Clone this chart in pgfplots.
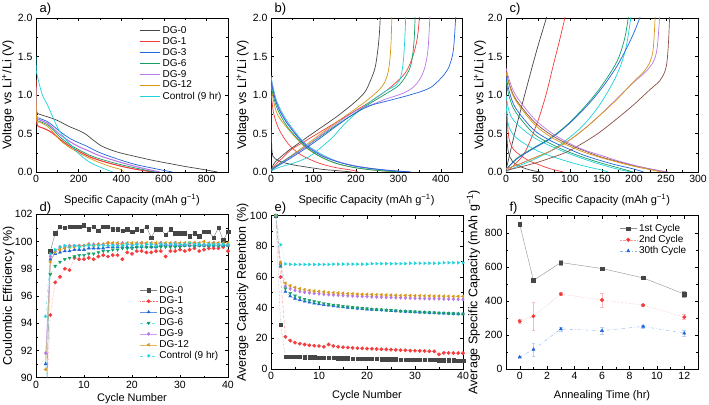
\documentclass[border=0pt]{standalone}
\usepackage{fontspec}
\setmainfont{Liberation Sans}
\usepackage{pgfplots}
\pgfplotsset{compat=1.18}
\definecolor{cG}{RGB}{70,70,70}
\definecolor{cR}{RGB}{245,60,60}
\definecolor{cB}{RGB}{30,100,220}
\definecolor{cGr}{RGB}{20,160,100}
\definecolor{cV}{RGB}{185,120,230}
\definecolor{cO}{RGB}{215,150,20}
\definecolor{cC}{RGB}{30,210,215}
\definecolor{cBr}{RGB}{140,80,70}
\pgfplotsset{
  myax/.style={scale only axis, anchor=south west, tick align=inside,
    major tick length=3pt, minor tick length=1.6pt,
    tick style={black, line width=0.4pt},
    axis line style={line width=0.6pt},
    ticklabel style={font=\fontsize{10.5}{12}\selectfont},
    xlabel style={font=\fontsize{11}{13}\selectfont},
    ylabel style={font=\fontsize{12.5}{14}\selectfont},
    /pgf/number format/assume math mode=true,
    minor x tick num=1, minor y tick num=1,
    legend cell align=left,
  },
  ylpos/.style={ylabel style={at={(axis description cs:#1,0.5)}, anchor=center}},
  xlpos/.style={xlabel style={at={(axis description cs:0.5,#1)}, anchor=center}},
  vax/.style={ymin=0,ymax=2,ytick={0,0.5,1,1.5,2},
    yticklabel style={/pgf/number format/.cd,fixed,fixed zerofill,precision=1},
    xlabel={Specific Capacity (mAh g\textsuperscript{−1})},
    ylabel={Voltage vs Li\textsuperscript{+}/Li (V)}, xlpos=-0.182},
  cv/.style={smooth, tension=0.55, line width=0.7pt, no marks},
  lgd/.style={legend style={draw=none, fill=none, font=\fontsize{10}{11}\selectfont, row sep=-1.6pt, inner sep=1pt}},
}
\begin{document}
\begin{tikzpicture}
\useasboundingbox (0,0) rectangle (709pt,404pt);
% ---------------- a ----------------
\begin{axis}[myax, vax, ylpos=-0.146, name=a, at={(36pt,232pt)}, width=192pt, height=154pt,
  xmin=0, xmax=900, xtick={0,200,...,800}, lgd,
  legend style={at={(0.53,0.965)}, anchor=north west},
  legend image code/.code={\draw[#1] (0cm,0cm) -- (0.72cm,0cm);}]
\addplot[cv, cG] coordinates {(0,0.9) (3,0.78) (16,0.75) (50,0.72) (100,0.67) (156,0.59) (200,0.54) (234,0.49) (270,0.41) (313,0.33) (380,0.26) (469,0.2) (550,0.15) (625,0.11) (703,0.07) (780,0.035) (830,0.01) (850,0)};
\addlegendentry{DG-0}
\addplot[cv, cR, line width=1.1pt] coordinates {(0,1.2) (3,0.7) (8,0.6) (23,0.58) (50,0.55) (80,0.5) (110,0.43) (150,0.35) (200,0.27) (250,0.2) (300,0.15) (350,0.11) (400,0.075) (450,0.045) (500,0.02) (540,0.005) (555,0)};
\addlegendentry{DG-1}
\addplot[cv, cB] coordinates {(0,1.1) (3,0.74) (15,0.7) (50,0.66) (80,0.6) (110,0.53) (156,0.44) (200,0.38) (234,0.34) (300,0.25) (391,0.16) (470,0.095) (547,0.05) (600,0.02) (640,0)};
\addlegendentry{DG-3}
\addplot[cv, cGr] coordinates {(0,1.05) (3,0.7) (15,0.66) (50,0.62) (80,0.55) (110,0.46) (156,0.36) (200,0.29) (250,0.22) (300,0.17) (391,0.1) (470,0.05) (530,0.015) (560,0)};
\addlegendentry{DG-6}
\addplot[cv, cV, line width=1.1pt] coordinates {(0,1.1) (3,0.72) (15,0.68) (50,0.64) (80,0.57) (110,0.49) (156,0.4) (200,0.33) (250,0.27) (300,0.21) (391,0.13) (470,0.07) (530,0.03) (580,0)};
\addlegendentry{DG-9}
\addplot[cv, cO] coordinates {(0,1.1) (3,0.68) (15,0.65) (50,0.6) (80,0.52) (110,0.42) (156,0.32) (200,0.25) (250,0.18) (300,0.12) (350,0.07) (400,0.03) (410,0)};
\addlegendentry{DG-12}
\addplot[cv, cC] coordinates {(0,1.5) (2,1.3) (10,1.2) (30,1.0) (52,0.88) (78,0.72) (110,0.53) (156,0.37) (200,0.24) (234,0.16) (270,0.1) (313,0.05) (340,0.02) (360,0)};
\addlegendentry{Control (9 hr)}
\end{axis}
\node[anchor=base west, font=\fontsize{13}{15}\selectfont] at ([yshift=5pt]a.north west) {a)};
% ---------------- b ----------------
\begin{axis}[myax, vax, ylpos=-0.148, name=b, at={(271pt,232pt)}, width=191pt, height=154pt,
  xmin=0, xmax=450, xtick={0,100,...,400}]
\addplot[cv, cG] coordinates {(0,0.02) (3,0.06) (10,0.13) (37,0.26) (77,0.42) (116,0.57) (155,0.72) (194,0.89) (220,1.03) (233,1.17) (245,1.35) (252,1.6) (256,1.85) (258,2.1)};
\addplot[cv, cG] coordinates {(0,1.25) (0.8,0.6) (2,0.3) (5,0.2) (20,0.14) (50,0.095) (77,0.07) (120,0.035) (155,0.018) (185,0.003) (190,0)};
\addplot[cv, cR] coordinates {(0,0.02) (10,0.09) (30,0.2) (50,0.3) (77,0.39) (116,0.52) (155,0.65) (194,0.78) (233,0.91) (270,1.05) (296,1.17) (318,1.3) (334,1.5) (345,1.75) (351,2.1)};
\addplot[cv, cR] coordinates {(0,1.04) (5,0.8) (12,0.65) (22,0.52) (40,0.37) (61,0.26) (85,0.18) (116,0.11) (150,0.06) (194,0.02) (205,0)};
\addplot[cv, cO] coordinates {(0,0.02) (10,0.07) (37,0.17) (77,0.33) (116,0.49) (155,0.65) (194,0.8) (233,0.96) (260,1.1) (272,1.22) (279,1.4) (283,1.7) (285,2.1)};
\addplot[cv, cO] coordinates {(0,1.15) (5,0.95) (15,0.75) (37,0.58) (77,0.34) (116,0.2) (155,0.11) (194,0.06) (233,0.03) (270,0.01) (290,0)};
\addplot[cv, cC] coordinates {(0,0.01) (14,0.05) (37,0.09) (61,0.13) (90,0.2) (116,0.31) (145,0.45) (171,0.61) (200,0.76) (233,0.91) (270,1.05) (295,1.13) (304,1.2) (311,1.4) (315,1.7) (318,2.1)};
\addplot[cv, cC] coordinates {(0,1.25) (5,1.1) (15,0.9) (37,0.67) (77,0.39) (116,0.24) (155,0.14) (194,0.08) (233,0.045) (272,0.02) (310,0.005) (325,0)};
\addplot[cv, cGr] coordinates {(0,0.02) (10,0.07) (37,0.17) (77,0.31) (116,0.46) (155,0.61) (194,0.75) (233,0.89) (272,1.02) (300,1.12) (318,1.25) (330,1.4) (337,1.7) (340,2.1)};
\addplot[cv, cGr] coordinates {(0,1.15) (5,1.0) (15,0.82) (37,0.6) (77,0.35) (116,0.2) (155,0.11) (194,0.06) (233,0.03) (272,0.012) (310,0)};
\addplot[cv, cV] coordinates {(0,0.02) (10,0.06) (37,0.16) (77,0.31) (116,0.47) (155,0.63) (202,0.8) (240,0.88) (272,0.95) (310,1.02) (335,1.1) (350,1.2) (362,1.35) (370,1.6) (375,2.1)};
\addplot[cv, cV] coordinates {(0,1.22) (5,1.08) (15,0.88) (37,0.65) (77,0.38) (116,0.23) (155,0.14) (194,0.085) (233,0.05) (272,0.025) (310,0.008) (330,0)};
\addplot[cv, cB] coordinates {(0,0.02) (10,0.06) (37.5,0.15) (77,0.29) (116,0.44) (155,0.6) (194,0.75) (233,0.86) (272,0.92) (327,1.0) (370,1.08) (390,1.16) (410,1.28) (421,1.39) (430,1.6) (436,2.1)};
\addplot[cv, cB] coordinates {(0,1.2) (5,1.05) (15,0.86) (37,0.64) (77,0.37) (116,0.22) (155,0.135) (194,0.08) (233,0.047) (272,0.024) (310,0.008) (330,0)};
\end{axis}
\node[anchor=base west, font=\fontsize{13}{15}\selectfont] at ([yshift=5pt]b.north west) {b)};
% ---------------- c ----------------
\begin{axis}[myax, vax, ylpos=-0.135, name=c, at={(506pt,232pt)}, width=192pt, height=154pt,
  xmin=0, xmax=300, xtick={0,50,...,300}]
\addplot[cv, cG] coordinates {(0,0.02) (3,0.13) (15,0.55) (32,1.09) (48,1.58) (63,2.0) (66,2.1)};
\addplot[cv, cG] coordinates {(0,1.4) (0.5,0.9) (1.5,0.45) (4,0.25) (10,0.14) (20,0.08) (32,0.04) (45,0.012) (55,0)};
\addplot[cv, cR] coordinates {(0,0.0) (10,0.07) (27,0.22) (40,0.45) (53,0.74) (64,1.05) (74,1.39) (84,1.72) (92,2.0) (95,2.1)};
\addplot[cv, cR] coordinates {(0,1.0) (1,0.85) (3,0.55) (6,0.39) (12,0.29) (22,0.22) (35,0.15) (53,0.09) (70,0.04) (90,0)};
\addplot[cv, cC] coordinates {(0,1.0) (3,0.85) (8,0.72) (20,0.6) (43,0.45) (69,0.34) (95,0.25) (121,0.17) (147,0.1) (173,0.04) (195,0)};
\addplot[cv, cC] coordinates {(0,0.9) (2,0.7) (5,0.58) (15,0.45) (43,0.3) (69,0.21) (95,0.14) (121,0.08) (147,0.03) (160,0)};
\addplot[cv, cC] coordinates {(0,0.01) (20,0.08) (43,0.16) (69,0.27) (95,0.42) (121,0.61) (147,0.88) (173,1.26) (187,1.6) (195,2.0) (197,2.1)};
\addplot[cv, cGr] coordinates {(0,0.03) (17,0.18) (40,0.3) (69,0.44) (95,0.61) (121,0.83) (147,1.09) (173,1.43) (185,1.72) (191,2.0) (193,2.1)};
\addplot[cv, cGr] coordinates {(0,1.2) (5,0.98) (15,0.78) (43,0.5) (69,0.37) (95,0.27) (121,0.19) (147,0.12) (173,0.06) (190,0.02) (198,0)};
\addplot[cv, cB] coordinates {(0,0.03) (17,0.17) (40,0.29) (69,0.43) (95,0.6) (121,0.81) (147,1.06) (173,1.37) (195,1.72) (209,2.0) (212,2.1)};
\addplot[cv, cB] coordinates {(0,1.25) (5,1.05) (15,0.83) (43,0.55) (69,0.41) (95,0.31) (121,0.22) (147,0.15) (173,0.09) (199,0.04) (215,0)};
\addplot[cv, cBr] coordinates {(0,0.02) (20,0.06) (43,0.11) (69,0.18) (95,0.26) (121,0.38) (147,0.52) (173,0.69) (199,0.87) (225,1.07) (240,1.18) (246,1.26) (251,1.4) (254,1.7) (256,2.1)};
\addplot[cv, cBr] coordinates {(0,1.3) (5,1.15) (15,0.95) (43,0.66) (69,0.49) (95,0.37) (121,0.28) (147,0.2) (173,0.14) (199,0.085) (225,0.04) (245,0.008) (253,0)};
\addplot[cv, cV] coordinates {(0,0.04) (20,0.1) (43,0.18) (69,0.27) (95,0.39) (121,0.55) (147,0.74) (173,0.95) (199,1.16) (218,1.3) (230,1.43) (236,1.6) (240,2.0) (241,2.1)};
\addplot[cv, cV] coordinates {(0,1.35) (5,1.2) (15,1.0) (43,0.7) (69,0.52) (95,0.39) (121,0.29) (147,0.22) (173,0.15) (199,0.09) (225,0.04) (245,0.01) (252,0)};
\addplot[cv, cO] coordinates {(0,0.04) (20,0.1) (43,0.18) (69,0.27) (95,0.39) (121,0.55) (147,0.74) (173,0.94) (199,1.17) (215,1.3) (225,1.43) (230,1.6) (233,2.0) (234,2.1)};
\addplot[cv, cO] coordinates {(0,1.3) (5,1.13) (15,0.93) (43,0.63) (69,0.46) (95,0.35) (121,0.26) (147,0.19) (173,0.13) (199,0.075) (225,0.03) (240,0.005) (245,0)};
\end{axis}
\node[anchor=base west, font=\fontsize{13}{15}\selectfont] at ([yshift=5pt]c.north west) {c)};
% ---------------- d ----------------
\begin{axis}[myax, name=d, at={(36pt,26.3pt)}, width=192pt, height=163.4pt,
  xmin=0, xmax=40, xtick={0,10,...,40}, ymin=90, ymax=102, ytick={90,92,...,102},
  xlabel={Cycle Number}, ylabel={Coulombic Efficiency (\%)}, ylpos=-0.142, xlpos=-0.128, lgd,
  legend style={at={(0.535,0.58)}, anchor=north west},
  every axis plot/.append style={mark size=1.7pt, line width=0.4pt}]
\addplot[cG!70, mark=square*, mark options={cG}] coordinates {(2,86) (3,99.3) (4,100.6) (5,101.1) (6,101.0) (7,101.1) (8,101.1) (9,101.1) (10,101.2) (11,100.9) (12,101.1) (13,100.8) (14,101.1) (15,101.1) (16,100.9) (17,100.9) (18,100.8) (19,100.9) (20,100.7) (21,100.9) (22,100.8) (23,101.1) (24,100.3) (25,100.9) (26,100.9) (27,100.5) (28,100.9) (29,100.6) (30,100.6) (31,100.6) (32,100.4) (33,100.6) (34,100.4) (35,100.7) (36,100.7) (37,100.3) (38,101.0) (39,100.1) (40,100.7)};
\addlegendentry{DG-0}
\addplot[cR!70, densely dotted, mark=*, mark options={cR, solid}] coordinates {(2,87) (3,94.6) (4,97.0) (5,97.4) (6,98.0) (7,97.9) (8,98.8) (9,98.7) (10,98.7) (11,98.8) (12,98.7) (13,98.9) (14,99.0) (15,98.9) (16,99.0) (17,99.0) (18,98.7) (19,99.2) (20,99.1) (21,99.3) (22,99.3) (23,99.2) (24,99.2) (25,99.3) (26,99.3) (27,98.9) (28,99.3) (29,99.3) (30,99.4) (31,99.3) (32,99.4) (33,99.5) (34,99.3) (35,99.4) (36,99.5) (37,99.5) (38,99.5) (39,99.6) (40,99.3)};
\addlegendentry{DG-1}
\addplot[cB!70, mark=triangle*, mark options={cB}] coordinates {(2,91.0) (3,98.7) (4,99.1) (5,99.2) (6,99.3) (7,99.3) (8,99.4) (9,99.4) (10,99.4) (11,99.5) (12,99.5) (13,99.5) (14,99.5) (15,99.6) (16,99.6) (17,99.6) (18,99.6) (19,99.6) (20,99.6) (21,99.6) (22,99.6) (23,99.6) (24,99.6) (25,99.6) (26,99.7) (27,99.7) (28,99.7) (29,99.7) (30,99.7) (31,99.7) (32,99.7) (33,99.7) (34,99.7) (35,99.7) (36,99.7) (37,99.7) (38,99.7) (39,99.7) (40,99.7)};
\addlegendentry{DG-3}
\addplot[cC!60, dashed, mark=triangle*, mark options={cGr, rotate=180, solid}] coordinates {(2,89.3) (3,97.6) (4,98.2) (5,98.5) (6,98.7) (7,98.8) (8,98.9) (9,99.0) (10,99.0) (11,99.1) (12,99.1) (13,99.2) (14,99.3) (15,99.3) (16,99.4) (17,99.4) (18,99.5) (19,99.5) (20,99.5) (21,99.6) (22,99.6) (23,99.6) (24,99.6) (25,99.6) (26,99.6) (27,99.6) (28,99.6) (29,99.6) (30,99.6) (31,99.7) (32,99.7) (33,99.7) (34,99.7) (35,99.7) (36,99.7) (37,99.7) (38,99.7) (39,99.7) (40,99.7)};
\addlegendentry{DG-6}
\addplot[cV!70, mark=diamond*, mark options={cV}] coordinates {(2,91.8) (3,98.9) (4,99.3) (5,99.6) (6,99.6) (7,99.7) (8,99.7) (9,99.7) (10,99.7) (11,99.8) (12,99.8) (13,99.8) (14,99.8) (15,99.9) (16,99.8) (17,99.8) (18,99.9) (19,99.8) (20,99.8) (21,99.8) (22,99.9) (23,99.8) (24,99.8) (25,99.8) (26,99.9) (27,99.8) (28,99.8) (29,99.9) (30,99.8) (31,99.8) (32,99.8) (33,99.9) (34,99.8) (35,99.8) (36,99.8) (37,99.9) (38,99.8) (39,99.8) (40,99.8)};
\addlegendentry{DG-9}
\addplot[cO!70, mark=triangle*, mark options={cO, rotate=90}] coordinates {(2,90.6) (3,98.5) (4,99.2) (5,99.4) (6,99.5) (7,99.6) (8,99.6) (9,99.7) (10,99.7) (11,99.8) (12,99.7) (13,99.8) (14,99.8) (15,99.9) (16,99.9) (17,99.9) (18,99.8) (19,99.9) (20,99.9) (21,99.9) (22,99.9) (23,99.9) (24,99.9) (25,99.9) (26,99.9) (27,99.9) (28,99.9) (29,99.9) (30,99.9) (31,99.9) (32,99.9) (33,99.9) (34,99.9) (35,100.0) (36,99.9) (37,99.9) (38,99.9) (39,99.9) (40,99.9)};
\addlegendentry{DG-12}
\addplot[cC!70, dashed, mark=triangle*, mark options={cC, rotate=-90, solid}] coordinates {(2,94.5) (3,99.1) (4,99.4) (5,99.6) (6,99.7) (7,99.6) (8,99.7) (9,99.6) (10,99.7) (11,99.7) (12,99.7) (13,99.7) (14,99.7) (15,99.7) (16,99.7) (17,99.7) (18,99.7) (19,99.8) (20,99.7) (21,99.8) (22,99.7) (23,99.8) (24,99.8) (25,99.7) (26,99.8) (27,99.8) (28,99.8) (29,99.8) (30,99.8) (31,99.8) (32,99.9) (33,99.8) (34,99.8) (35,99.8) (36,99.8) (37,99.8) (38,99.8) (39,99.8) (40,99.8)};
\addlegendentry{Control (9 hr)}
\end{axis}
\node[anchor=base west, font=\fontsize{13}{15}\selectfont] at ([yshift=3pt]d.north west) {d)};
% ---------------- e ----------------
\begin{axis}[myax, name=e, at={(271pt,35pt)}, width=192pt, height=153.3pt,
  xmin=0, xmax=40, xtick={0,10,...,40}, ymin=0, ymax=100, ytick={0,20,...,100},
  xlabel={Cycle Number}, ylabel={Average Capacity Retention (\%)}, ylpos=-0.148, xlpos=-0.176,
  every axis plot/.append style={mark size=1.7pt, line width=0.4pt}]
\addplot[cG!60, densely dotted, mark=square*, mark options={cG, solid}] coordinates {(1,100) (2,29) (3,8) (4,8) (5,8) (6,8) (7,7.8) (8,7.8) (9,7.6) (10,7.5) (11,7.4) (12,7.3) (13,7.2) (14,7.1) (15,7) (16,7) (17,6.9) (18,6.8) (19,6.7) (20,6.7) (21,6.6) (22,6.6) (23,6.5) (24,6.4) (25,6.4) (26,6.3) (27,6.2) (28,6.2) (29,6.1) (30,6.1) (31,6) (32,6) (33,5.9) (34,5.9) (35,5.8) (36,5.8) (37,5.7) (38,5.7) (39,5.6) (40,5.6)};
\addplot[cR!60, densely dashed, mark=*, mark options={cR, solid}] coordinates {(1,100) (2,60) (3,21) (4,18.5) (5,17.2) (6,16.5) (7,16) (8,15.5) (9,15.2) (10,15) (11,14.5) (12,16) (13,15) (14,14.5) (15,14.2) (16,14) (17,13.8) (18,13.6) (19,13.5) (20,13.3) (21,13.2) (22,13) (23,12.9) (24,12.8) (25,12.6) (26,12.5) (27,12.3) (28,12.2) (29,12) (30,11.9) (31,11.8) (32,11.7) (33,11.6) (34,11.5) (35,9.5) (36,10.5) (37,10.5) (38,10.4) (39,10.4) (40,10.4)};
\addplot[cB!60, densely dashed, mark=triangle*, mark options={cB, solid}] coordinates {(1,100) (2,67) (3,50.5) (4,47.5) (5,46) (6,45) (7,44.2) (8,43.5) (9,42.9) (10,42.4) (11,41.9) (12,41.5) (13,41.1) (14,40.7) (15,40.4) (16,40.1) (17,39.8) (18,39.5) (19,39.3) (20,39.0) (21,38.8) (22,38.6) (23,38.4) (24,38.2) (25,38) (26,37.8) (27,37.6) (28,37.5) (29,37.3) (30,37.2) (31,37) (32,36.9) (33,36.7) (34,36.6) (35,36.4) (36,36.3) (37,36.2) (38,36) (39,35.9) (40,35.8)};
\addplot[cC!60, densely dotted, mark=triangle*, mark options={cGr, rotate=180, solid}] coordinates {(1,100) (2,68) (3,52.5) (4,49.5) (5,47.8) (6,46.6) (7,45.6) (8,44.8) (9,44) (10,43.4) (11,42.8) (12,42.3) (13,41.8) (14,41.4) (15,41) (16,40.6) (17,40.3) (18,40) (19,39.7) (20,39.4) (21,39.1) (22,38.9) (23,38.7) (24,38.5) (25,38.3) (26,38.1) (27,37.9) (28,37.7) (29,37.5) (30,37.4) (31,37.2) (32,37.1) (33,36.9) (34,36.8) (35,36.6) (36,36.5) (37,36.4) (38,36.2) (39,36.1) (40,36)};
\addplot[cV!60, densely dotted, mark=diamond*, mark options={cV, solid}] coordinates {(1,100) (2,69) (3,54) (4,52.3) (5,51.3) (6,50.6) (7,50.1) (8,49.7) (9,49.4) (10,49.1) (11,48.8) (12,48.6) (13,48.4) (14,48.2) (15,48) (16,47.8) (17,47.7) (18,47.5) (19,47.4) (20,47.3) (21,47.1) (22,47) (23,46.9) (24,46.8) (25,46.7) (26,46.6) (27,46.5) (28,46.4) (29,46.3) (30,46.2) (31,46.1) (32,46) (33,45.9) (34,45.9) (35,45.8) (36,45.7) (37,45.6) (38,45.6) (39,45.5) (40,45.4)};
\addplot[cO!60, densely dotted, mark=triangle*, mark options={cO, rotate=90, solid}] coordinates {(1,100) (2,69.5) (3,56) (4,54.3) (5,53.2) (6,52.4) (7,51.8) (8,51.3) (9,50.9) (10,50.6) (11,50.3) (12,50) (13,49.8) (14,49.6) (15,49.4) (16,49.2) (17,49.1) (18,48.9) (19,48.8) (20,48.7) (21,48.6) (22,48.5) (23,48.4) (24,48.3) (25,48.2) (26,48.1) (27,48) (28,48) (29,47.9) (30,47.8) (31,47.8) (32,47.7) (33,47.7) (34,47.6) (35,47.6) (36,47.5) (37,47.5) (38,47.4) (39,47.4) (40,47.4)};
\addplot[cC!60, densely dotted, mark=triangle*, mark options={cC, rotate=-90, solid}] coordinates {(1,100) (2,81) (3,68.5) (4,68.3) (5,68.2) (6,68.2) (7,68.2) (8,68.2) (9,68.2) (10,68.2) (11,68.2) (12,68.2) (13,68.4) (14,68.4) (15,68.4) (16,68.4) (17,68.4) (18,68.4) (19,68.4) (20,68.4) (21,68.7) (22,68.7) (23,68.7) (24,68.7) (25,68.7) (26,68.7) (27,68.7) (28,68.7) (29,69) (30,69) (31,69) (32,69) (33,69) (34,69) (35,69) (36,69.3) (37,69.3) (38,69.3) (39,69.3) (40,69.3)};
\end{axis}
\node[anchor=base west, font=\fontsize{13}{15}\selectfont] at ([yshift=4pt]e.north west) {e)};
% ---------------- f ----------------
\begin{axis}[myax, name=f, at={(506pt,35pt)}, width=192pt, height=153.3pt,
  xmin=-1, xmax=13, xtick={0,2,...,12}, ymin=0, ymax=900, ytick={0,200,...,800},
  xlabel={Annealing Time (hr)}, ylabel={Average Specific Capacity (mAh g\textsuperscript{−1})}, ylpos=-0.17, xlpos=-0.176,
  lgd, legend style={at={(0.585,0.965)}, anchor=north west},
  every axis plot/.append style={mark size=1.8pt, line width=0.4pt}]
\addplot[cG!60, mark=square*, mark options={cG}, error bars/.cd, y dir=both, y explicit, error bar style={cG!50}] coordinates {(0,850) +- (0,8) (1,520) +- (0,8) (3,625) +- (0,15) (6,590) +- (0,8) (9,535) +- (0,8) (12,440) +- (0,18)};
\addlegendentry{1st Cycle}
\addplot[cR!50, densely dotted, mark=*, mark options={cR, solid}, error bars/.cd, y dir=both, y explicit, error bar style={cR!35, solid}] coordinates {(0,280) +- (0,12) (1,310) +- (0,85) (3,440) +- (0,8) (6,405) +- (0,40) (9,375) +- (0,8) (12,305) +- (0,15)};
\addlegendentry{2nd Cycle}
\addplot[cB!50, dash dot, mark=triangle*, mark options={cB, solid}, error bars/.cd, y dir=both, y explicit, error bar style={cB!30, solid}] coordinates {(0,70) +- (0,8) (1,115) +- (0,37) (3,235) +- (0,12) (6,225) +- (0,20) (9,250) +- (0,8) (12,210) +- (0,15)};
\addlegendentry{30th Cycle}
\end{axis}
\node[anchor=base west, font=\fontsize{13}{15}\selectfont] at ([yshift=4pt]f.north west) {f)};
\end{tikzpicture}
\end{document}
